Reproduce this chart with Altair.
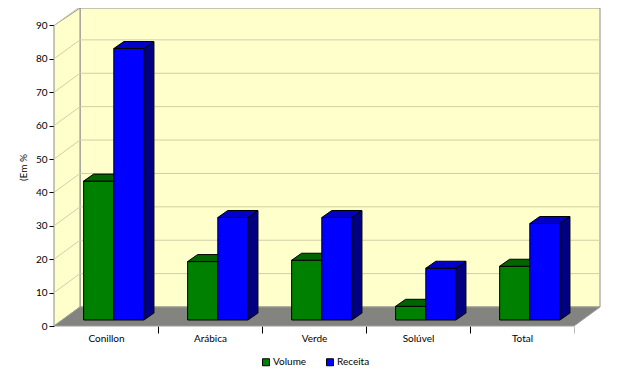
import json
import altair as alt
import pandas as pd

# ---------------- data ----------------
categories = ["Conillon", "Arábica", "Verde", "Solúvel", "Total"]
series_names = ["Volume", "Receita"]
volume = [41.6, 17.5, 17.9, 4.1, 16.1]
receita = [81.3, 30.7, 30.7, 15.5, 28.9]
y_ticks = [0, 10, 20, 30, 40, 50, 60, 70, 80, 90]
y_axis_title = "(Em %"

# colours: front, top, side
series_colors = {
    "Volume": ("#008000", "#006400", "#004000"),
    "Receita": ("#0000FF", "#0000C8", "#000080"),
}
WALL_FILL = "#FFFFCC"
WALL_EDGE = "#8C8C8C"
FLOOR_FILL = "#838380"
GRID = "#CFCFA8"
FONT = "Lato"

# ---------------- geometry (axis units) ----------------
PX = 104.0          # pixels per category
PY = 3.339          # pixels per percent
N = len(categories)
WALL_DX = 26 / PX
WALL_DY = 19 / PY
XMAX = N + WALL_DX
W = round(XMAX * PX)
H = 318
YMAX = H / PY
BAR_OFF_X = 0.285
BAR_W = 0.29
BAR_BASE = 6 / PY
DEPTH_DX = 10 / PX
DEPTH_DY = 7 / PY

x_scale = alt.Scale(domain=[0, XMAX], nice=False, zero=False)
y_scale = alt.Scale(domain=[0, YMAX], nice=False, zero=False)

label_list = json.dumps(categories, ensure_ascii=False)
x_vals = []
for i in range(N):
    x_vals += [i + 0.5, i + 1.0]
x_axis = alt.Axis(
    values=x_vals,
    labelExpr=f"(datum.value % 1) == 0.5 ? {label_list}[floor(datum.value)] : ''",
    title=None, grid=False, domain=False,
    tickColor={"condition": [
        {"test": f"(datum.value % 1) == 0 && datum.value < {N}", "value": "black"},
        {"test": f"datum.value == {N}", "value": "#BBBBBB"},
    ], "value": "transparent"},
    tickSize=7, labelPadding=0, labelFlush=False, labelOverlap=False,
    labelFont=FONT, labelFontSize=10, labelColor="black",
)
y_axis = alt.Axis(
    values=y_ticks, title=y_axis_title, grid=False, domain=False,
    tickColor="black", tickSize=5, labelPadding=2, labelFlush=False,
    labelOverlap=False, labelFont=FONT, labelFontSize=10, labelColor="black",
    titleFont=FONT, titleFontSize=10, titleFontWeight="normal",
    titleColor="black", titlePadding=7,
)


def X(field="x"):
    return alt.X(f"{field}:Q", scale=x_scale, axis=x_axis)


def Y(field="y"):
    return alt.Y(f"{field}:Q", scale=y_scale, axis=y_axis)


# ---------------- walls ----------------
back_wall = alt.Chart(pd.DataFrame([{"x": WALL_DX, "x2": XMAX, "y": WALL_DY, "y2": YMAX}])).mark_rect(
    fill=WALL_FILL, stroke=WALL_EDGE, strokeWidth=1
).encode(x=X(), x2="x2:Q", y=Y(), y2="y2:Q")

left_wall = alt.Chart(pd.DataFrame([
    {"x": 0, "y": 90, "y2": 0},
    {"x": WALL_DX, "y": YMAX, "y2": WALL_DY},
])).mark_area(fill=WALL_FILL, stroke=WALL_EDGE, strokeWidth=1).encode(
    x=X(), y=Y(), y2="y2:Q")

floor = alt.Chart(pd.DataFrame([
    {"y": 0, "x": 0, "x2": N},
    {"y": WALL_DY, "x": WALL_DX, "x2": XMAX},
])).mark_area(orient="horizontal", fill=FLOOR_FILL, stroke="#9A9A9A", strokeWidth=1).encode(
    y=Y(), x=X(), x2="x2:Q")

grid_rows = []
for v in y_ticks[1:]:
    grid_rows.append({"x": WALL_DX, "x2": XMAX, "y": v + WALL_DY, "y2": v + WALL_DY})
    grid_rows.append({"x": 0, "x2": WALL_DX, "y": v, "y2": v + WALL_DY})
grid = alt.Chart(pd.DataFrame(grid_rows)).mark_rule(color=GRID, strokeWidth=1).encode(
    x=X(), x2="x2:Q", y=Y(), y2="y2:Q")

# ---------------- bars ----------------
def bar_layers(si, name, values):
    front_c, top_c, side_c = series_colors[name]
    front, top, side = [], [], []
    for i, v in enumerate(values):
        l = i + BAR_OFF_X + si * BAR_W
        r = l + BAR_W
        b = BAR_BASE
        t = BAR_BASE + v
        front.append({"serie": name, "x": l, "x2": r, "y": b, "y2": t})
        top += [
            {"id": i, "y": t, "x": l, "x2": r},
            {"id": i, "y": t + DEPTH_DY, "x": l + DEPTH_DX, "x2": r + DEPTH_DX},
        ]
        side += [
            {"id": i, "x": r, "y": t, "y2": b},
            {"id": i, "x": r + DEPTH_DX, "y": t + DEPTH_DY, "y2": b + DEPTH_DY},
        ]
    color = alt.Color(
        "serie:N",
        scale=alt.Scale(domain=series_names,
                        range=[series_colors[s][0] for s in series_names]),
        legend=alt.Legend(
            title=None, orient="none", legendX=207, legendY=349,
            direction="horizontal", symbolType="square", symbolSize=49,
            symbolStrokeColor="black", symbolStrokeWidth=1, symbolOpacity=1,
            labelFont=FONT, labelFontSize=10, labelColor="black",
            labelOffset=2, columnPadding=17, padding=0,
        ),
    )
    f = alt.Chart(pd.DataFrame(front)).mark_rect(stroke="black", strokeWidth=1, opacity=1).encode(
        x=X(), x2="x2:Q", y=Y(), y2="y2:Q", color=color)
    tp = alt.Chart(pd.DataFrame(top)).mark_area(
        orient="horizontal", fill=top_c, stroke="black", strokeWidth=1, opacity=1
    ).encode(y=Y(), x=X(), x2="x2:Q", detail="id:N")
    sd = alt.Chart(pd.DataFrame(side)).mark_area(
        fill=side_c, stroke="black", strokeWidth=1, opacity=1
    ).encode(x=X(), y=Y(), y2="y2:Q", detail="id:N")
    return [f, tp, sd]


layers = [back_wall, left_wall, floor, grid]
layers += bar_layers(0, "Volume", volume)
layers += bar_layers(1, "Receita", receita)

chart = alt.layer(*layers).properties(
    width=W, height=H,
    autosize=alt.AutoSizeParams(type="none"),
    padding={"left": 46, "top": 0, "right": 20, "bottom": 44},
    background="white",
).configure_view(stroke=None)

chart.save("out.html", embed_options={"renderer": "svg", "actions": False})
